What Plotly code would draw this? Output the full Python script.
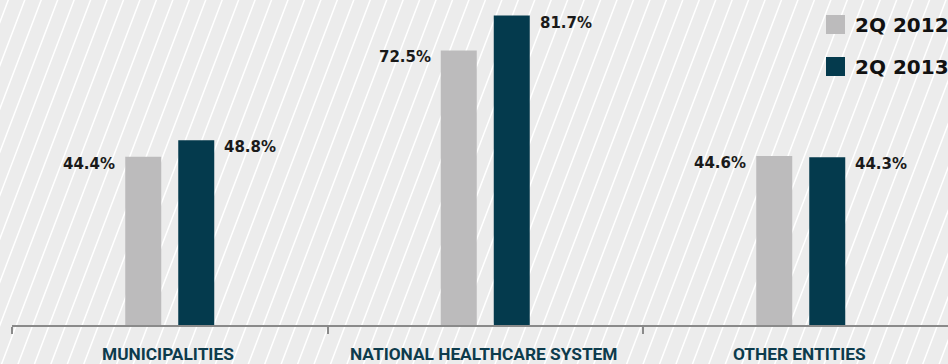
import plotly.graph_objects as go

# --- data -------------------------------------------------------------
categories = ["MUNICIPALITIES", "NATIONAL HEALTHCARE SYSTEM", "OTHER ENTITIES"]
series_names = ["2Q 2012", "2Q 2013"]
values_2012 = [44.4, 72.5, 44.6]
values_2013 = [48.8, 81.7, 44.3]
series_colors = ["#bcbbbc", "#043a4d"]

# --- canvas geometry (pixels) ----------------------------------------
W, H = 948, 364
ML, MR, MT, MB = 12, 0, 0, 39
PLOT_W = W - ML - MR
PLOT_H = H - MT - MB


def px_x(x):
    """pixel column -> paper x"""
    return (x - ML) / PLOT_W


def px_y(y):
    """pixel row -> paper y"""
    return (H - MB - y) / PLOT_H


x_idx = list(range(len(categories)))
series_values = [values_2012, values_2013]

fig = go.Figure()
for name, vals, col in zip(series_names, series_values, series_colors):
    fig.add_trace(go.Bar(
        x=x_idx, y=vals, name=name,
        marker=dict(color=col, line=dict(width=0)),
        showlegend=False, hoverinfo="skip",
    ))

annotations = []
shapes = []

# value labels: left of the first bar, right of the second bar
label_font = dict(family="DejaVu Sans, Verdana, sans-serif", size=15, color="#1a1a1a", weight="bold")
for s, vals in enumerate(series_values):
    left = s == 0
    for i, v in zip(x_idx, vals):
        annotations.append(dict(
            x=i, y=v, xref="x", yref="y",
            text=f"{v:.1f}%", showarrow=False,
            xanchor="right" if left else "left",
            yanchor="middle",
            xshift=-52.5 if left else 52.5, yshift=-7,
            font=label_font,
        ))

# category labels under the axis
cat_font = dict(family="Roboto, sans-serif", size=17.3, color="#0d3b4c", weight="bold")
for i, c in zip(x_idx, categories):
    annotations.append(dict(
        x=i, y=0, xref="x", yref="paper", text=c, showarrow=False,
        xanchor="center", yanchor="middle", yshift=-29, xshift=-1.5,
        font=cat_font,
    ))

# legend (top right)
legend_font = dict(family="DejaVu Sans, Verdana, sans-serif", size=20, color="#111111", weight="bold")
legend_rows = [15, 57]
for name, col, top in zip(series_names, series_colors, legend_rows):
    shapes.append(dict(
        type="rect", xref="paper", yref="paper",
        x0=px_x(826), x1=px_x(845), y0=px_y(top + 19), y1=px_y(top),
        fillcolor=col, line=dict(width=0), layer="above",
    ))
    annotations.append(dict(
        x=px_x(853), y=px_y(top + 9.5), xref="paper", yref="paper",
        text=name, showarrow=False, xanchor="left", yanchor="middle",
        font=legend_font,
    ))

# diagonal white pinstripes over the whole background
STEP, SLANT, PHASE = 16.45, 0.38, 8.3
y_top, y_bot = -5, H + 5
segs = []
k = -2
while True:
    x_top = PHASE + STEP * k
    if x_top - SLANT * (y_top) > W + SLANT * H + 40:
        break
    xa = x_top - SLANT * y_top
    xb = x_top - SLANT * y_bot
    segs.append(f"M{px_x(xa):.5f},{px_y(y_top):.5f}L{px_x(xb):.5f},{px_y(y_bot):.5f}")
    k += 1
shapes.insert(0, dict(
    type="path", xref="paper", yref="paper", path="".join(segs),
    line=dict(color="#ffffff", width=1.5), layer="below",
))

fig.update_layout(
    width=W, height=H,
    margin=dict(l=ML, r=MR, t=MT, b=MB, pad=0),
    paper_bgcolor="#ececec",
    plot_bgcolor="rgba(0,0,0,0)",
    barmode="group",
    bargap=0.664,
    bargroupgap=0.3208,
    showlegend=False,
    xaxis=dict(
        range=[-0.5, -0.5 + PLOT_W / 315.5],
        showgrid=False, zeroline=False,
        showline=True, linecolor="#8a8a8a", linewidth=2,
        tickmode="array", tickvals=[-0.5, 0.5, 1.5],
        ticks="outside", ticklen=7, tickwidth=2, tickcolor="#8a8a8a",
        showticklabels=False, fixedrange=True,
    ),
    yaxis=dict(range=[0, 85.8], visible=False, fixedrange=True),
    annotations=annotations,
    shapes=shapes,
)

fig.write_html("out.html", config={"displayModeBar": False})
